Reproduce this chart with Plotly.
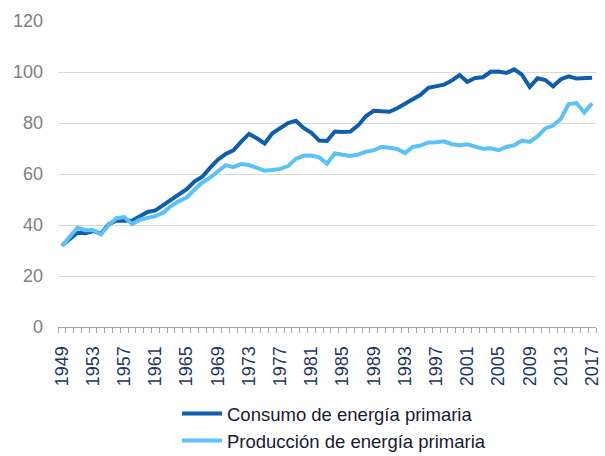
import plotly.graph_objects as go

years = list(range(1949, 2018))
consumo = [31.98, 34.62, 36.97, 36.75, 37.66, 36.64, 40.21, 41.75, 41.79, 41.65,
           43.47, 45.09, 45.74, 47.83, 49.65, 51.82, 54.02, 57.02, 58.91, 62.42,
           65.62, 67.84, 69.29, 72.70, 75.71, 73.99, 71.97, 75.98, 77.96, 79.96,
           80.85, 78.07, 76.17, 73.10, 72.97, 76.63, 76.49, 76.61, 79.05, 82.71,
           84.79, 84.43, 84.38, 85.77, 87.40, 89.10, 91.04, 93.82, 94.58, 95.02,
           96.65, 98.81, 96.17, 97.65, 97.96, 100.09, 100.19, 99.62, 101.02, 98.95,
           94.13, 97.53, 96.84, 94.39, 97.16, 98.30, 97.42, 97.41, 97.73]
produccion = [31.72, 35.54, 38.95, 37.94, 38.01, 36.28, 39.99, 42.66, 43.13, 40.37,
              42.08, 42.80, 43.46, 44.93, 47.45, 49.38, 50.74, 53.86, 56.70, 58.55,
              60.97, 63.50, 62.68, 63.92, 63.52, 62.34, 61.32, 61.55, 62.01, 63.09,
              65.92, 67.18, 67.22, 66.54, 64.08, 68.05, 67.64, 67.05, 67.64, 68.78,
              69.32, 70.66, 70.30, 69.84, 68.21, 70.63, 71.14, 72.40, 72.42, 72.81,
              71.67, 71.27, 71.64, 70.65, 69.88, 70.08, 69.32, 70.62, 71.28, 73.09,
              72.56, 74.75, 77.87, 79.00, 81.64, 87.41, 87.82, 84.06, 87.73]
x_labels = [str(y) for y in range(1949, 2018, 4)]
y_ticks = [0, 20, 40, 60, 80, 100, 120]

fig = go.Figure()
fig.add_trace(go.Scatter(x=years, y=consumo, mode="lines",
                         name="Consumo de energía primaria",
                         line=dict(color="#0F5DAE", width=4)))
fig.add_trace(go.Scatter(x=years, y=produccion, mode="lines",
                         name="Producción de energía primaria",
                         line=dict(color="#5BC1F9", width=4)))

fig.update_layout(
    width=605, height=456,
    margin=dict(l=58, r=9, t=21, b=129, autoexpand=False),
    paper_bgcolor="white", plot_bgcolor="white",
    font=dict(family="Liberation Sans, Arial", size=18),
    showlegend=True,
    legend=dict(orientation="v", x=(177 - 58) / 538, xanchor="left",
                y=(327 - 395) / 306, yanchor="top",
                font=dict(size=18.5, color="#1A1A33"), itemwidth=40,
                bgcolor="rgba(0,0,0,0)"),
    xaxis=dict(range=[1948.5, 2017.5], tickmode="array",
               tickvals=[int(v) for v in x_labels], ticktext=x_labels,
               tickangle=-90, ticks="", showgrid=False, automargin=False,
               tickfont=dict(size=18, color="#1F3864"),
               ticklabelstandoff=11,
               showline=True, linecolor="#A6A6A6", linewidth=1,
               zeroline=False,
               minor=dict(ticks="outside", tick0=1948.5, dtick=1, ticklen=5,
                          tickcolor="#A6A6A6", showgrid=False)),
    yaxis=dict(range=[0, 120], tickvals=y_ticks, showgrid=True,
               gridcolor="#D9D9D9", gridwidth=1, zeroline=False, automargin=False,
               tickfont=dict(size=18, color="#808080"),
               ticklabelstandoff=14, showline=False),
)

fig.write_html("out.html", config={"displayModeBar": False},
               post_script="document.body.style.margin='0px';document.body.style.overflow='hidden';")
